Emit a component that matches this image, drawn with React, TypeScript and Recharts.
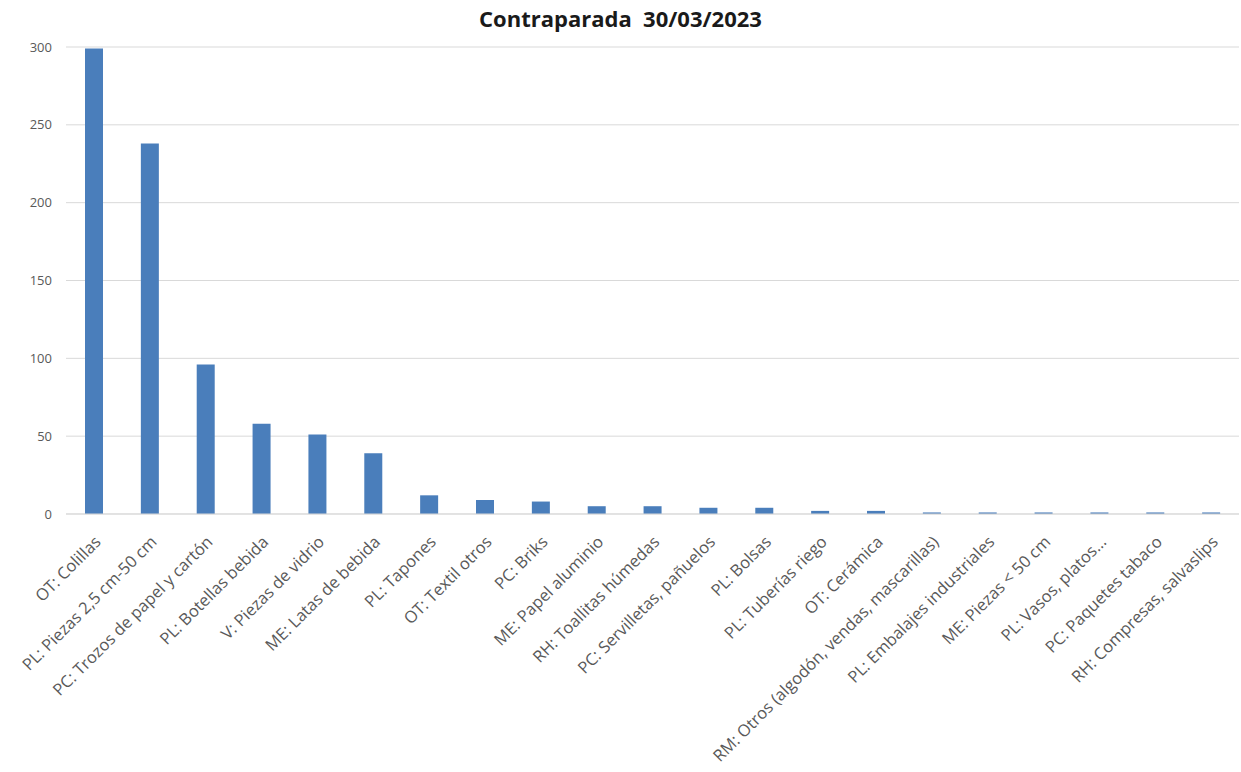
import { Bar, BarChart, CartesianGrid, XAxis, YAxis } from "recharts";

const categories = [
  "OT: Colillas",
  "PL: Piezas 2,5 cm-50 cm",
  "PC: Trozos de papel y cartón",
  "PL: Botellas bebida",
  "V: Piezas de vidrio",
  "ME: Latas de bebida",
  "PL: Tapones",
  "OT: Textil otros",
  "PC: Briks",
  "ME: Papel aluminio",
  "RH: Toallitas húmedas",
  "PC: Servilletas, pañuelos",
  "PL: Bolsas",
  "PL: Tuberías riego",
  "OT: Cerámica",
  "RM: Otros (algodón, vendas, mascarillas)",
  "PL: Embalajes industriales",
  "ME: Piezas < 50 cm",
  "PL: Vasos, platos...",
  "PC: Paquetes tabaco",
  "RH: Compresas, salvaslips",
];
const counts = [299, 238, 96, 58, 51, 39, 12, 9, 8, 5, 5, 4, 4, 2, 2, 1, 1, 1, 1, 1, 1];
const yTicks = [0, 50, 100, 150, 200, 250, 300];

const data = categories.map((name, i) => ({ name, value: counts[i] }));

const FONT = "'Open Sans', sans-serif";

function CategoryTick({ x, y, payload }: any) {
  return (
    <g transform={`translate(${x + 8},${y + 21})`}>
      <text
        x={0}
        y={0}
        textAnchor="end"
        transform="rotate(-45)"
        fill="#595959"
        fontSize={16.5}
        fontFamily={FONT}
      >
        {payload.value}
      </text>
    </g>
  );
}

export default function App() {
  return (
    <div style={{ position: "absolute", left: 0, top: 0, width: 1241, height: 772, background: "#fff" }}>
      <div
        style={{
          position: "absolute",
          left: 0,
          top: 3,
          width: 1241,
          textAlign: "center",
          fontFamily: FONT,
          fontWeight: 700,
          fontSize: 22,
          color: "#1a1a1a",
          whiteSpace: "pre",
        }}
      >
        {"Contraparada  30/03/2023"}
      </div>
      <BarChart
        width={1241}
        height={772}
        data={data}
        margin={{ top: 47, right: 2, bottom: 0, left: 0 }}
      >
        <CartesianGrid vertical={false} stroke="#d9d9d9" />
        <XAxis
          dataKey="name"
          interval={0}
          height={258}
          tick={<CategoryTick />}
          tickLine={false}
          axisLine={{ stroke: "#d9d9d9" }}
        />
        <YAxis
          width={66}
          domain={[0, 300]}
          ticks={yTicks}
          tick={{ fill: "#595959", fontSize: 13, fontFamily: FONT }}
          tickMargin={8}
          axisLine={false}
          tickLine={false}
        />
        <Bar dataKey="value" fill="#4a7ebb" barSize={18} isAnimationActive={false} />
      </BarChart>
    </div>
  );
}
